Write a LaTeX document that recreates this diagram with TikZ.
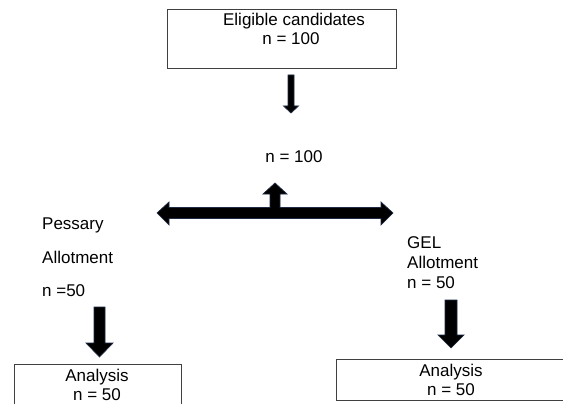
\documentclass[tikz,border=0pt]{standalone}
\usepackage{fontspec}
\setmainfont{Liberation Sans}
\definecolor{arrowedge}{HTML}{1F2A44}
\definecolor{boxedge}{HTML}{404040}
\begin{document}
\begin{tikzpicture}[x=1pt,y=-1pt,
  box/.style={draw=boxedge, line width=0.8pt, inner sep=0pt},
  txt/.style={font=\fontsize{17}{20}\selectfont, inner sep=0pt, anchor=base},
  ltxt/.style={txt, anchor=base west},
  blk/.style={fill=black, draw=arrowedge, line width=0.7pt, line join=miter}]
\useasboundingbox (0,0) rectangle (563,404);
\clip (0,0) rectangle (563,404);
\fill[white] (0,0) rectangle (563,404);

% top box
\node[box, minimum width=229pt, minimum height=59pt] (top) at (281.5,38.5) {};
\node[txt] (elig) at (294,26) {Eligible candidates};
\node[txt] (ntop) at (291,45) {n = 100};

% small down arrow
\draw[blk] (288,75) -- (294,75) -- (294,106) -- (298.5,106) -- (291,113)
  -- (283.5,106) -- (288,106) -- cycle;

\node[txt] (nmid) at (294,163) {n = 100};

% split arrow (double-headed bar with up arrow)
\draw[blk] (157,213) -- (169,202) -- (169,207.5) -- (270,207.5) -- (270,194)
  -- (263,194) -- (275,183) -- (287,194) -- (280,194) -- (280,207.5)
  -- (381,207.5) -- (381,202) -- (393,213) -- (381,225) -- (381,218.5)
  -- (169,218.5) -- (169,225) -- cycle;

% left branch text
\node[ltxt] (pess) at (42,229) {Pessary};
\node[ltxt] (pallot) at (42,263) {Allotment};
\node[ltxt] (pn) at (42,296) {n =50};

% right branch text
\node[ltxt] (gel) at (407,248) {GEL};
\node[ltxt] (gallot) at (407,268) {Allotment};
\node[ltxt] (gn) at (407,288) {n = 50};

% left down arrow
\draw[blk] (94,307) -- (105,307) -- (105,343) -- (113,343) -- (99.5,357)
  -- (86,343) -- (94,343) -- cycle;

% right down arrow
\draw[blk] (445,300) -- (457,300) -- (457,335) -- (464,335) -- (451,348)
  -- (438,335) -- (445,335) -- cycle;

% bottom boxes
\node[box, minimum width=167pt, minimum height=50pt] (lbox) at (97.5,389) {};
\node[txt] (lan) at (97,381) {Analysis};
\node[txt] (lnn) at (97,400) {n = 50};

\node[box, minimum width=232pt, minimum height=41pt] (rbox) at (452,379.5) {};
\node[txt] (ran) at (451,376) {Analysis};
\node[txt] (rnn) at (451,395) {n = 50};
\end{tikzpicture}
\end{document}
